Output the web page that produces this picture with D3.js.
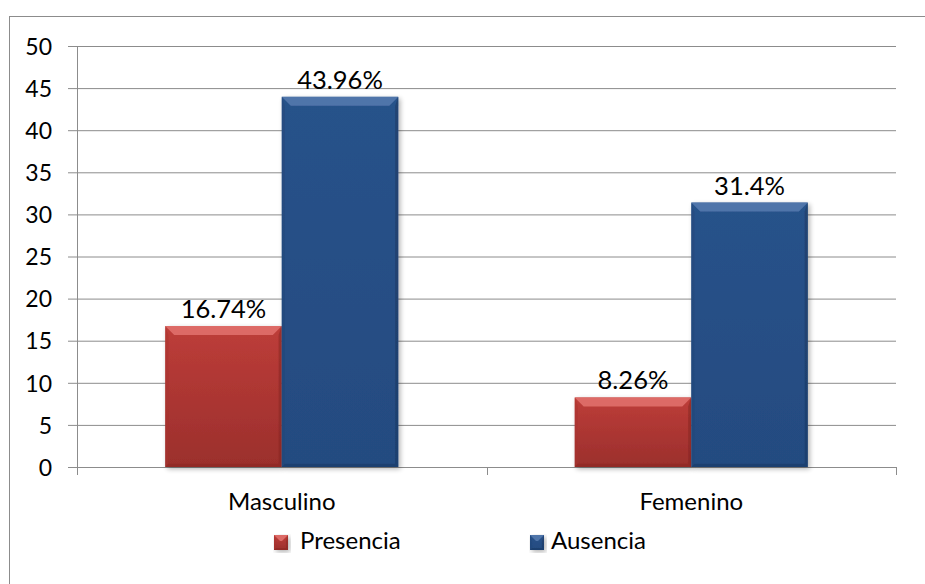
<!DOCTYPE html>
<html>
<head>
<meta charset="utf-8">
<script src="https://cdn.jsdelivr.net/npm/d3@7/dist/d3.min.js"></script>
<style>
  html, body { margin: 0; padding: 0; background: #fff; }
  svg { display: block; }
  text { font-family: Lato, "Open Sans", sans-serif; fill: #000; }
</style>
</head>
<body>
<svg id="chart" width="925" height="584"></svg>
<script>
// Chart data
const categories = ["Masculino", "Femenino"];
const seriesNames = ["Presencia", "Ausencia"];
const presencia = [16.74, 8.26];
const ausencia = [43.96, 31.4];
const valueLabels = [["16.74%", "43.96%"], ["8.26%", "31.4%"]];
const yTicks = [0, 5, 10, 15, 20, 25, 30, 35, 40, 45, 50];

const svg = d3.select("#chart");
const W = 925, H = 584;
const plot = { left: 77, right: 896, top: 46, bottom: 467 };

const palette = {
  Presencia: { top: "#e0706b", main: "#bd3d39", low: "#9b2f2c", dark: "#8a2825", side: "#a8332f" },
  Ausencia:  { top: "#5479ad", main: "#28528a", low: "#244b80", dark: "#1b3961", side: "#234878" }
};

// Outer chart frame
svg.append("rect")
  .attr("x", 9.5).attr("y", 16.5)
  .attr("width", W + 10).attr("height", H + 10)
  .attr("fill", "none").attr("stroke", "#8c8c8c").attr("stroke-width", 1);

const defs = svg.append("defs");
seriesNames.forEach(name => {
  const c = palette[name];
  const g = defs.append("linearGradient").attr("id", "grad-" + name)
    .attr("x1", 0).attr("y1", 0).attr("x2", 0).attr("y2", 1);
  g.append("stop").attr("offset", "0%").attr("stop-color", c.main);
  g.append("stop").attr("offset", "100%").attr("stop-color", c.low);
});
const shadow = defs.append("filter").attr("id", "shadow")
  .attr("x", "-20%").attr("y", "-20%").attr("width", "140%").attr("height", "140%");
shadow.append("feGaussianBlur").attr("in", "SourceAlpha").attr("stdDeviation", 2.5);
shadow.append("feOffset").attr("dx", 2).attr("dy", 2).attr("result", "b");
shadow.append("feComponentTransfer").append("feFuncA").attr("type", "linear").attr("slope", 0.3);
const merge = shadow.append("feMerge");
merge.append("feMergeNode");
merge.append("feMergeNode").attr("in", "SourceGraphic");

const y = d3.scaleLinear().domain([0, 50]).range([plot.bottom, plot.top]);
const x0 = d3.scaleBand().domain(categories).range([plot.left, plot.right]).paddingInner(0).paddingOuter(0);
const x1 = d3.scaleBand().domain(seriesNames).range([0, x0.bandwidth()]).paddingOuter(0.757).paddingInner(0);

// Gridlines and y axis
const yAxis = d3.axisLeft(y).tickValues(yTicks).tickSize(plot.right - plot.left + 9);
const gy = svg.append("g").attr("transform", `translate(${plot.right},0)`).call(yAxis);
gy.select(".domain").remove();
gy.selectAll(".tick line").attr("stroke", "#8c8c8c").attr("stroke-width", 1);
gy.selectAll(".tick text").attr("x", -(plot.right - plot.left) - 25)
  .style("font-size", "23px").style("font-family", "Lato, sans-serif").attr("fill", "#000")
  .attr("text-anchor", "end").attr("dy", "0.36em");

// Vertical axis line
svg.append("line").attr("x1", plot.left + 0.5).attr("x2", plot.left + 0.5)
  .attr("y1", plot.top).attr("y2", plot.bottom + 8)
  .attr("stroke", "#8c8c8c");

// Category axis
const xAxis = d3.axisBottom(x0).tickSize(0).tickPadding(0);
const gx = svg.append("g").attr("transform", `translate(0,${plot.bottom})`).call(xAxis);
gx.select(".domain").remove();
gx.selectAll(".tick text").attr("y", 43).attr("dy", null)
  .style("font-size", "24px").style("font-family", "Lato, sans-serif").attr("fill", "#000");
const boundaries = [plot.left, plot.left + x0.bandwidth(), plot.right];
svg.selectAll(".cat-tick").data(boundaries).enter().append("line")
  .attr("x1", d => Math.round(d) + 0.5).attr("x2", d => Math.round(d) + 0.5)
  .attr("y1", plot.bottom).attr("y2", plot.bottom + 8)
  .attr("stroke", "#8c8c8c");

// Bevelled bar
function drawBar(g, bx, by, bw, bh, name, bevMax) {
  const c = palette[name];
  const bev = Math.min(bevMax, bh / 2);
  const side = bev * 0.35;
  const bg = g.append("g").attr("filter", "url(#shadow)");
  bg.append("rect").attr("x", bx).attr("y", by).attr("width", bw).attr("height", bh)
    .attr("fill", `url(#grad-${name})`);
  // top bevel
  bg.append("path").attr("d", `M${bx},${by}L${bx + bw},${by}L${bx + bw - bev},${by + bev}L${bx + bev},${by + bev}Z`)
    .attr("fill", c.top).attr("opacity", 0.9);
  // left bevel
  bg.append("path").attr("d", `M${bx},${by}L${bx + side},${by + bev}L${bx + side},${by + bh - side}L${bx},${by + bh}Z`)
    .attr("fill", c.side).attr("opacity", 0.45);
  // right bevel
  bg.append("path").attr("d", `M${bx + bw},${by}L${bx + bw - side},${by + bev}L${bx + bw - side},${by + bh - side}L${bx + bw},${by + bh}Z`)
    .attr("fill", c.dark).attr("opacity", 0.55);
  // bottom bevel
  bg.append("path").attr("d", `M${bx},${by + bh}L${bx + side},${by + bh - side}L${bx + bw - side},${by + bh - side}L${bx + bw},${by + bh}Z`)
    .attr("fill", c.dark).attr("opacity", 0.55);
}

const bars = svg.append("g");
categories.forEach((cat, i) => {
  const vals = [presencia[i], ausencia[i]];
  seriesNames.forEach((s, j) => {
    const bx = x0(cat) + x1(s);
    const by = y(vals[j]);
    drawBar(bars, bx, by, x1.bandwidth(), y(0) - by, s, 9);
    svg.append("text")
      .attr("x", bx + x1.bandwidth() / 2)
      .attr("y", by - 8)
      .attr("text-anchor", "middle")
      .style("font-size", "25.5px")
      .text(valueLabels[i][j]);
  });
});

// Legend
const legend = [
  { name: "Presencia", sx: 274, tx: 300 },
  { name: "Ausencia", sx: 530, tx: 551 }
];
legend.forEach(l => {
  const lg = svg.append("g");
  drawBar(lg, l.sx, 535, 14, 15, l.name, 6);
  svg.append("text").attr("x", l.tx).attr("y", 549)
    .style("font-size", "24px").text(l.name);
});
</script>
</body>
</html>
